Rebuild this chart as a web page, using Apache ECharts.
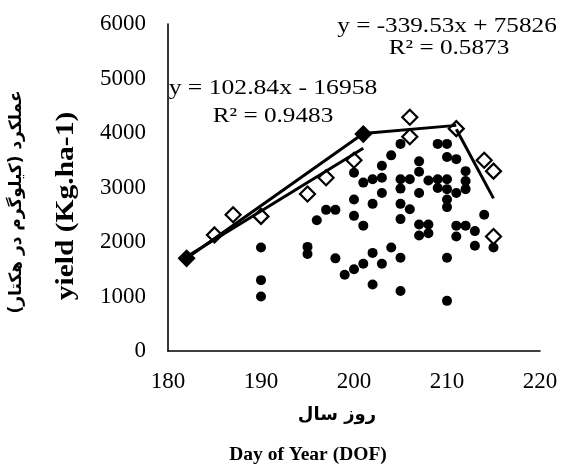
<!DOCTYPE html>
<html>
<head>
<meta charset="utf-8">
<script src="https://cdn.jsdelivr.net/npm/echarts@6/dist/echarts.min.js"></script>
<style>
html,body{margin:0;padding:0;background:#ffffff;}
#chart{width:570px;height:473px;}
</style>
</head>
<body>
<div id="chart"></div>
<script>
// ---- tick labels ----
const xTicks = [180, 190, 200, 210, 220];
const yTicks = [0, 1000, 2000, 3000, 4000, 5000, 6000];

// ---- observed field points (filled dots) ----
const dotDay = [
  190,190,190, 195,195, 196, 197,198, 198, 199,
  200,200,200,200, 201,201,201, 202,202,202,202,
  203,203,203,203, 204,204,
  205,205,205,205,205,205,205, 206,206,
  207,207,207,207,207, 208,208,208,
  209,209,209, 210,210,210,210,210,210,210,210,
  211,211,211,211, 212,212,212,212, 213,213, 214, 215
];
const dotYield = [
  1900,1300,1000, 1910,1780, 2400, 2590,2590, 1700, 1400,
  3270,2780,2480,1500, 3090,2300,1600, 3150,2700,1800,1220,
  3400,3180,2900,1600, 3590,1900,
  3800,3150,2980,2700,2420,1710,1100, 3150,2600,
  3480,3290,2900,2320,2120, 3130,2320,2160,
  3800,3150,2990, 3800,3560,3150,2970,2780,2640,1710,920,
  3520,2900,2300,2100, 3300,3120,2970,2300, 2200,1930, 2500, 1900
];

// ---- boundary points (open diamonds) ----
const diaDay   = [182, 185, 187, 190, 195, 197, 200, 201, 206, 206, 211, 214, 215, 215];
const diaYield = [1700,2130,2500,2470,2880,3180,3500,3980,4290,3930,4080,3500,3300,2100];

// ---- boundary line and the two fitted trend lines ----
const boundaryDay   = [182, 201, 211];
const boundaryYield = [1700, 3990, 4140];
const trendUpDay    = [182, 201];
const trendUpYield  = [1730, 3720];
const trendDownDay  = [211, 215];
const trendDownYield= [4070, 2800];

// ---- texts ----
const eqDown = 'y = -339.53x + 75826';
const r2Down = 'R\u00B2 = 0.5873';
const eqUp   = 'y = 102.84x - 16958';
const r2Up   = 'R\u00B2 = 0.9483';
const xTitleFa = 'روز سال';
const xTitleEn = 'Day of Year (DOF)';
const yTitleFa = 'عملکرد (کیلوگرم در هکتار)\u200F';
const yTitleEn = 'yield (Kg.ha-1)';

const zip = (a, b) => a.map((v, i) => [v, b[i]]);
const SERIF = '"Liberation Serif", "Times New Roman", serif';

const diaData = zip(diaDay, diaYield).map((p, i) => {
  // the markers at the line junctions are drawn solid
  if (i === 0 || i === 7) {
    return { value: p, itemStyle: { color: '#000' } };
  }
  return p;
});

const lineStyle = { color: '#000', width: 3 };

function txt(text, x, y, font, opts) {
  opts = opts || {};
  return {
    type: 'text',
    x: x, y: y,
    rotation: opts.rotation || 0,
    scaleX: opts.scaleX || 1,
    scaleY: 1,
    z: 100,
    style: {
      text: text,
      font: font,
      fill: '#000',
      textAlign: 'center',
      textVerticalAlign: 'middle',
      align: 'center',
      verticalAlign: 'middle'
    }
  };
}

const chart = echarts.init(document.getElementById('chart'), null, { renderer: 'canvas' });
chart.setOption({
  animation: false,
  backgroundColor: '#ffffff',
  grid: { left: 168, right: 30, top: 24, bottom: 122, containLabel: false },
  xAxis: {
    type: 'value',
    min: xTicks[0],
    max: xTicks[xTicks.length - 1],
    interval: xTicks[1] - xTicks[0],
    axisLine: { show: true, onZero: false, lineStyle: { color: '#000', width: 1.6 } },
    axisTick: { show: false },
    splitLine: { show: false },
    axisLabel: { color: '#000', fontFamily: SERIF, fontSize: 23, margin: 19,
                 formatter: v => String(v) }
  },
  yAxis: {
    type: 'value',
    min: yTicks[0],
    max: yTicks[yTicks.length - 1],
    interval: yTicks[1] - yTicks[0],
    axisLine: { show: true, onZero: false, lineStyle: { color: '#000', width: 1.6 } },
    axisTick: { show: false },
    splitLine: { show: false },
    axisLabel: { color: '#000', fontFamily: SERIF, fontSize: 23, margin: 22,
                 formatter: v => String(v) }
  },
  series: [
    {
      type: 'scatter',
      data: zip(dotDay, dotYield),
      symbol: 'circle',
      symbolSize: 10,
      itemStyle: { color: '#000', opacity: 1 },
      z: 2
    },
    {
      type: 'scatter',
      data: diaData,
      symbol: 'diamond',
      symbolSize: 15,
      itemStyle: { color: '#fff', borderColor: '#000', borderWidth: 2.2, opacity: 1 },
      z: 3
    },
    {
      type: 'line',
      data: zip(boundaryDay, boundaryYield),
      showSymbol: false, symbol: 'none',
      lineStyle: lineStyle,
      z: 4
    },
    {
      type: 'line',
      data: zip(trendUpDay, trendUpYield),
      showSymbol: false, symbol: 'none',
      lineStyle: lineStyle,
      z: 4
    },
    {
      type: 'line',
      data: zip(trendDownDay, trendDownYield),
      showSymbol: false, symbol: 'none',
      lineStyle: lineStyle,
      z: 4
    }
  ],
  graphic: [
    txt(eqDown, 447, 26, '21px ' + SERIF, { scaleX: 1.2 }),
    txt(r2Down, 449, 48, '21px ' + SERIF, { scaleX: 1.2 }),
    txt(eqUp, 273, 88, '21px ' + SERIF, { scaleX: 1.22 }),
    txt(r2Up, 273, 116, '21px ' + SERIF, { scaleX: 1.2 }),
    txt(xTitleFa, 337, 415, 'bold 18px "DejaVu Sans"'),
    txt(xTitleEn, 308, 455, 'bold 19.5px ' + SERIF),
    txt(yTitleEn, 67, 206, 'bold 25px ' + SERIF, { rotation: Math.PI / 2, scaleX: 1.18 }),
    txt(yTitleFa, 17, 202, 'bold 17px "DejaVu Sans"', { rotation: Math.PI / 2 })
  ]
});
</script>
</body>
</html>
